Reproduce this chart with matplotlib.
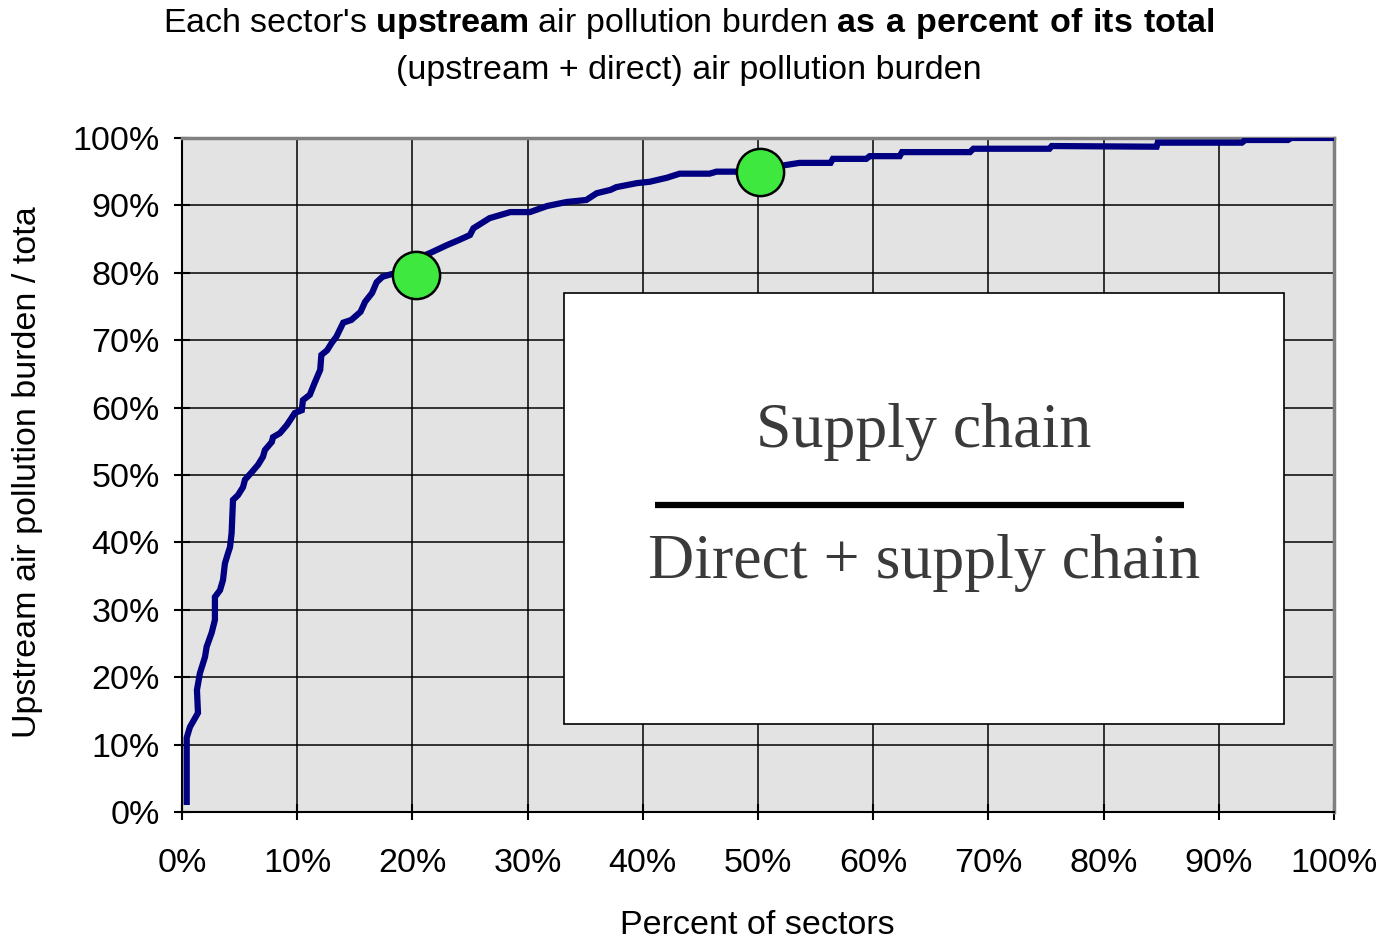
import numpy as np
import matplotlib.pyplot as plt
from matplotlib.patches import Rectangle
from matplotlib.ticker import PercentFormatter

plt.rcParams['font.family'] = 'Liberation Sans'
plt.rcParams['mathtext.fontset'] = 'custom'
plt.rcParams['mathtext.rm'] = 'Liberation Sans'
plt.rcParams['mathtext.bf'] = 'Liberation Sans:bold'

# cumulative curve (percent of sectors, percent upstream)
sectors_pct = [0.41, 0.41, 0.69, 1.39, 1.3, 1.56, 2.0, 2.14, 2.58, 2.86, 2.86, 3.3, 3.56,
               3.73, 4.0, 4.17, 4.31, 4.43, 4.86, 5.3, 5.47, 6.05, 6.6, 7.03, 7.2, 7.8,
               7.9, 8.5, 9.1, 9.8, 10.4, 10.5, 11.1, 11.5, 12.0, 12.1, 12.6, 13.0, 13.4,
               14.0, 14.7, 15.5, 15.9, 16.5, 16.9, 17.4, 18.2, 20.0, 20.5, 21.5, 23.0,
               24.1, 25.0, 25.3, 26.7, 28.5, 30.2, 31.7, 33.4, 35.1, 36.0, 37.2, 37.7,
               39.5, 40.6, 42.1, 43.2, 45.8, 46.4, 48.2, 50.2, 52.1, 53.6, 56.3, 56.5,
               59.4, 59.7, 62.3, 62.5, 68.4, 68.7, 75.3, 75.5, 84.6, 84.7, 92.0, 92.3,
               96.0, 96.3, 99.9]
upstream_pct = [1.5, 11.0, 12.6, 14.7, 18.1, 20.6, 23.0, 24.5, 26.6, 28.5, 31.9, 32.9, 34.4,
                36.9, 38.4, 39.3, 41.4, 46.3, 47.0, 48.2, 49.3, 50.4, 51.5, 52.7, 53.7, 54.9,
                55.6, 56.2, 57.4, 59.2, 59.6, 61.1, 61.9, 63.6, 65.6, 67.8, 68.5, 69.6, 70.5,
                72.6, 73.0, 74.2, 75.7, 77.0, 78.6, 79.4, 79.8, 80.1, 82.2, 82.9, 84.1,
                84.9, 85.6, 86.6, 88.1, 89.0, 89.0, 89.9, 90.5, 90.8, 91.8, 92.3, 92.7,
                93.3, 93.5, 94.1, 94.7, 94.7, 95.0, 95.0, 95.0, 95.9, 96.3, 96.3, 96.9,
                96.9, 97.3, 97.3, 97.9, 97.9, 98.4, 98.4, 98.8, 98.7, 99.3, 99.3, 99.7,
                99.7, 100.0, 100.0]

highlight_x = [20.3, 50.2]
highlight_y = [79.7, 94.9]

ticks = list(range(0, 101, 10))

fig = plt.figure(figsize=(13.88, 9.41), dpi=100)
ax = fig.add_axes([0.1311, 0.1371, 0.830, 0.7163])
ax.set_facecolor('#e3e3e3')

ax.plot(sectors_pct, upstream_pct, color='#000080', lw=4.5, solid_joinstyle='miter', zorder=3)
ax.plot(highlight_x, highlight_y, 'o', ms=34, mfc='#3ee83e', mec='black', mew=1.8, zorder=4)

ax.set_xlim(0, 100)
ax.set_ylim(0, 100)
ax.set_xticks(ticks)
ax.set_yticks(ticks)
ax.xaxis.set_major_formatter(PercentFormatter(decimals=0))
ax.yaxis.set_major_formatter(PercentFormatter(decimals=0))
ax.grid(True, color='black', lw=1.1)
ax.set_axisbelow(True)
ax.tick_params(direction='inout', length=12, width=1.5, labelsize=24.5)
ax.tick_params(axis='x', pad=20)
ax.tick_params(axis='y', pad=10)

for side in ['left', 'bottom']:
    ax.spines[side].set_color('black')
    ax.spines[side].set_linewidth(1.5)
for side in ['top', 'right']:
    ax.spines[side].set_color('#808080')
    ax.spines[side].set_linewidth(2.5)

fig.text(0.5455, 0.017, 'Percent of sectors', fontsize=24.5, ha='center', va='center')
fig.text(0.02, 0.498, 'Upstream air pollution burden / tota', fontsize=24.5,
         rotation=90, ha='center', va='center')

# formula box
ax.add_patch(Rectangle((33.16, 13.06), 62.5, 63.94, facecolor='white', edgecolor='black',
                       lw=1.2, zorder=5))
ax.text(64.4, 56.4, 'Supply chain', fontsize=46, family='Liberation Serif', color='#3a3a3a',
        ha='center', va='center', zorder=6)
ax.plot([41.1, 87.0], [45.5, 45.5], color='black', lw=4.5, zorder=6, solid_capstyle='butt')
ax.text(64.4, 36.9, 'Direct + supply chain', fontsize=46, family='Liberation Serif',
        color='#3a3a3a', ha='center', va='center', zorder=6)

fig.text(0.496, 0.9745,
         r"Each sector's $\mathbf{upstream}$ air pollution burden $\mathbf{as\ a\ percent\ of\ its\ total}$",
         ha='center', va='center', fontsize=24.5)
fig.text(0.496, 0.9256, '(upstream + direct) air pollution burden',
         ha='center', va='center', fontsize=24.5)

fig.savefig('out.png', dpi=100)
